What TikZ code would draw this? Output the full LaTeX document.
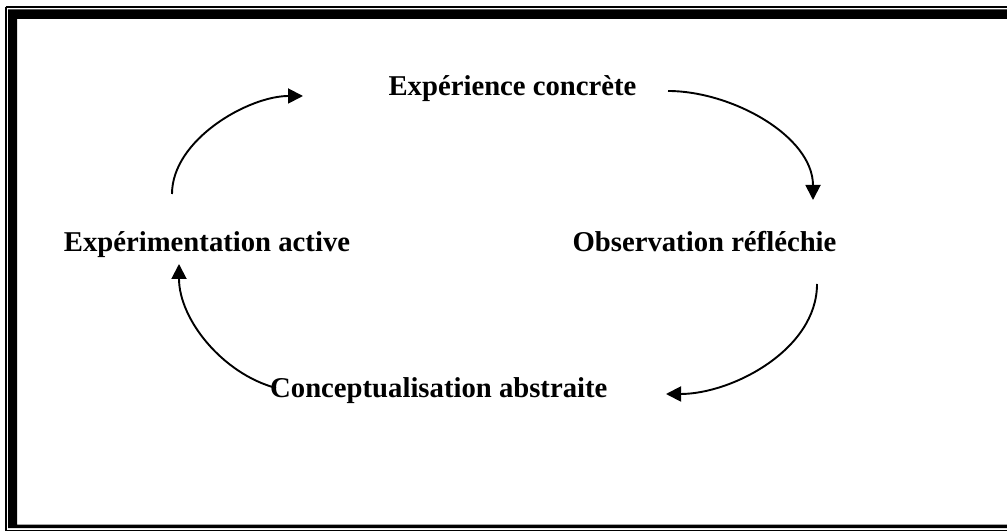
\documentclass[tikz,border=0pt]{standalone}
\usepackage{fontspec}
\setmainfont{Liberation Serif}
\usetikzlibrary{arrows.meta}
\begin{document}
\begin{tikzpicture}[x=1pt,y=1pt,
  label/.style={font=\fontsize{28.7}{34}\selectfont\bfseries, inner sep=0pt, anchor=base},
  cycle/.style={line width=1.9pt, -{Triangle[length=15pt,width=15pt]}}]
\useasboundingbox (0,0) rectangle (1007,532);
\clip (0,0) rectangle (1007,532);
% double frame: thin outer rule, heavy inner band
\draw[line width=1.6pt] (5.7,525.2) -- (5.7,1.3) -- (1020,1.3);
\draw[line width=1.6pt] (5.7,525.2) |- (1020,525.2);
\fill[even odd rule] (8,522.5) rectangle (1020,3.8)
                     (17,513) rectangle (1020,7.3);
% stages of the cycle
\node[label] (ec) at (512.5,436) {Expérience concrète};
\node[label] (obs) at (704.5,280) {Observation réfléchie};
\node[label, anchor=base west] (ca) at (270,134) {Conceptualisation abstraite};
\node[label] (ea) at (207,280) {Expérimentation active};
% arrow end points
\coordinate (a1s) at (172,338);
\coordinate (a1e) at (303,436);
\coordinate (a2s) at (668,441);
\coordinate (a2e) at (813,332);
\coordinate (a3s) at (817,248);
\coordinate (a3e) at (666,138);
\coordinate (a4s) at (276,144);
\coordinate (a4e) at (179,268);
\draw[cycle] (a1s) to[out=90,in=180,looseness=0.85] (a1e);
\draw[cycle] (a2s) to[out=0,in=90,looseness=0.9] (a2e);
\draw[cycle] (a3s) to[out=-90,in=0,looseness=0.9] (a3e);
\draw[cycle] (a4s) to[out=165,in=-90,looseness=0.9] (a4e);
\end{tikzpicture}
\end{document}
